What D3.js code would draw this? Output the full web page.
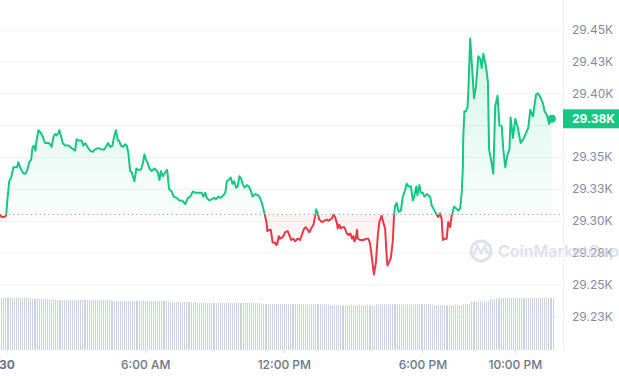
<!DOCTYPE html>
<html>
<head>
<meta charset="utf-8">
<script src="https://cdn.jsdelivr.net/npm/d3@7"></script>
<style>
  body { margin: 0; background: #fff; }
  svg { display: block; font-family: Inter, "Noto Sans", sans-serif; }
</style>
</head>
<body>
<svg id="chart" width="619" height="376"></svg>
<script>
// minutes after midnight (Apr 30) and BTC price in USD
var priceMinutes = [
  -17,-13,-6,-1,2,7,12,18,22,27,31,35,40,45,49,54,59,64,67,71,75,78,83,89,94,100,109,113,117,122,
  126,130,135,137,142,146,152,161,169,178,182,186,195,199,204,210,217,224,230,238,247,254,260,264,269,275,280,284,289,292,
  297,303,308,312,316,321,325,332,337,342,349,354,358,362,367,371,377,384,388,393,397,401,406,412,417,422,429,434,442,448,
  455,459,464,471,477,484,490,498,507,511,516,520,527,533,539,544,550,556,563,568,572,577,582,587,591,596,600,605,609,613,
  618,624,629,634,639,646,654,658,663,669,672,676,677,683,686,691,697,700,703,707,710,716,721,723,730,734,739,745,749,756,
  762,768,773,777,782,786,791,797,801,804,808,812,819,825,832,836,840,845,849,853,858,860,864,868,872,877,884,888,893,897,
  901,903,907,910,912,918,927,935,940,944,950,954,959,964,968,974,980,983,987,989,994,998,1003,1006,1009,1013,1018,1024,1029,1035,
  1039,1044,1050,1055,1058,1064,1067,1072,1076,1081,1085,1091,1095,1100,1104,1108,1113,1117,1121,1126,1130,1133,1139,1143,1147,1152,1156,1162,1167,1173,
  1178,1182,1185,1186,1189,1193,1197,1199,1202,1204,1214,1219,1225,1230,1234,1238,1245,1250,1253,1258,1264,1269,1275,1280,1286,1290,1295,1301,1306,1309,
  1315,1321,1327,1335,1342,1349,1355,1360,1367,1375,1380,1386,1393,1397,1403,1409,1413,1416
];
var priceValues = [
  29305,29303,29303,29304,29316,29331,29334,29342,29342,29342,29346,29342,29339,29337,29337,29340,29346,29348,29357,29359,29355,29363,29371,29369,29366,29361,29361,29360,29358,29366,
  29368,29367,29369,29371,29366,29361,29359,29359,29357,29355,29364,29363,29363,29359,29361,29358,29355,29354,29356,29357,29356,29356,29359,29361,29358,29359,29367,29371,29363,29363,
  29359,29358,29360,29359,29354,29339,29338,29331,29341,29340,29340,29345,29352,29348,29345,29341,29339,29341,29340,29338,29332,29339,29335,29338,29340,29325,29323,29319,29318,29316,
  29316,29315,29313,29318,29319,29323,29322,29322,29322,29319,29322,29318,29316,29317,29318,29317,29319,29318,29320,29322,29331,29332,29334,29329,29331,29326,29327,29335,29333,29329,
  29326,29328,29327,29324,29319,29321,29320,29318,29314,29307,29303,29297,29292,29293,29293,29283,29283,29281,29282,29288,29286,29287,29289,29291,29292,29289,29285,29286,29284,29286,
  29285,29290,29294,29295,29293,29291,29294,29297,29303,29309,29306,29301,29299,29300,29301,29300,29301,29302,29305,29303,29298,29294,29297,29294,29295,29295,29290,29289,29290,29286,
  29288,29284,29286,29293,29286,29285,29285,29286,29286,29282,29268,29258,29267,29288,29299,29304,29297,29294,29273,29265,29268,29271,29284,29303,29312,29314,29307,29308,29319,29324,
  29329,29327,29327,29316,29318,29327,29320,29328,29322,29322,29319,29321,29320,29319,29312,29310,29307,29305,29303,29306,29301,29285,29286,29286,29299,29295,29304,29311,29310,29308,
  29310,29322,29342,29366,29386,29386,29389,29400,29426,29443,29396,29405,29429,29427,29420,29431,29421,29409,29356,29348,29337,29390,29398,29375,29374,29356,29342,29352,29356,29381,
  29365,29380,29374,29361,29364,29369,29373,29387,29382,29399,29400,29397,29392,29386,29383,29376,29379,29380
];
var openPrice = 29305;
var lastPrice = 29380;
var lastPriceLabel = "29.38K";

// 24h volume (billions USD), one bar every 5 minutes starting 23:45
var volumeStart = -15;
var volumeValues = [
  13.1,13.1,13.1,13.1,13.1,13.1,13.1,13.1,13.1,13.1,13.1,13.1,13.1,13.1,13.1,13.1,12.75,12.75,12.75,12.75,12.75,12.75,12.75,12.75,
  12.75,12.75,12.75,12.75,12.5,12.5,12.5,12.5,12.5,12.5,12.5,12.5,12.5,12.5,12.5,12.5,12.5,12.5,12.5,12.5,12.5,12.5,12.5,12.5,
  12.5,12.5,12.5,12.5,12.5,12.5,12.5,12.5,12.5,12.33,12.33,12.33,12.33,12.33,12.33,12.33,12.33,12.33,12.33,12.33,12.33,12.33,12.33,12.33,
  12.33,12.33,12.33,12.33,12.33,12.33,12.33,12.33,12.33,12.33,12.33,12.33,12.33,12.33,12.33,12.33,12.0,12.0,12.0,12.0,12.0,12.0,12.0,12.0,
  12.0,12.0,12.0,12.0,12.0,12.0,11.75,11.75,11.75,11.75,11.75,11.75,11.75,11.75,11.75,11.75,11.75,11.75,11.75,11.75,11.75,11.75,11.75,11.75,
  11.75,11.75,11.75,11.75,11.75,11.75,11.75,11.75,11.75,11.75,11.75,11.75,11.75,11.75,11.75,11.5,11.5,11.5,11.5,11.5,11.5,11.5,11.5,11.5,
  11.5,11.5,11.5,11.5,11.5,11.5,11.5,11.5,11.5,11.5,11.5,11.5,11.42,11.42,11.42,11.42,11.42,11.42,11.42,11.42,11.42,11.42,11.42,11.42,
  11.42,11.42,11.42,11.17,11.17,11.17,11.17,11.17,11.17,11.17,11.17,11.17,11.17,11.17,11.17,11.17,11.17,11.17,11.17,11.17,11.17,11.17,11.17,11.17,
  11.17,11.17,11.17,11.42,11.42,11.42,11.42,11.42,11.42,11.42,11.42,11.42,11.42,11.42,11.42,11.42,11.42,11.42,11.42,11.42,11.42,11.42,11.42,11.42,
  11.5,11.5,11.5,11.5,11.5,11.5,11.5,11.5,11.17,11.17,11.17,11.17,11.17,11.17,11.17,11.17,11.17,11.17,11.17,11.17,11.17,11.17,11.17,11.17,
  11.5,11.5,11.5,11.5,12.1,12.1,12.1,12.1,12.1,12.1,12.1,12.1,12.1,12.1,12.7,12.7,12.7,13.0,13.0,13.0,13.0,13.0,13.0,13.0,
  13.0,13.0,13.0,13.0,13.0,13.0,13.0,13.0,13.0,13.0,13.0,13.0,13.0,13.0,13.0,13.0,13.0,13.0,13.0,13.0,13.0,13.0,13.0,13.0
];

var yTicks = [29225, 29250, 29275, 29300, 29325, 29350, 29375, 29400, 29425, 29450];
var yTickLabels = ["29.23K", "29.25K", "29.28K", "29.30K", "29.33K", "29.35K", "29.38K", "29.40K", "29.43K", "29.45K"];
var xTickHours = [0, 6, 12, 18, 22];
var xTickLabels = ["30", "6:00 AM", "12:00 PM", "6:00 PM", "10:00 PM"];

var green = "#16c784", red = "#ea3943";
var plotRight = 563, plotBottom = 350;
var day = new Date(2023, 3, 30);
function at(min) { return new Date(day.getTime() + min * 60000) }

var svg = d3.select("#chart");
var defs = svg.append("defs");

var x = d3.scaleTime()
    .domain([at(-17), at(1445)])
    .range([0, plotRight]);
var y = d3.scaleLinear()
    .domain([29225, 29450])
    .range([316.5, 29.5]);
var yVol = d3.scaleLinear()
    .domain([0, 14])
    .range([plotBottom, plotBottom - 56]);

var prices = priceMinutes.map((m, i) => ({ t: at(m), v: priceValues[i] }));
var baseY = y(openPrice);
var tagY = y(lastPrice);

// gradients
var gUp = defs.append("linearGradient").attr("id", "gUp")
    .attr("gradientUnits", "userSpaceOnUse").attr("x1", 0).attr("x2", 0).attr("y1", y(29450)).attr("y2", baseY);
gUp.append("stop").attr("offset", 0).attr("stop-color", green).attr("stop-opacity", 0.2);
gUp.append("stop").attr("offset", 1).attr("stop-color", green).attr("stop-opacity", 0.02);
var gDown = defs.append("linearGradient").attr("id", "gDown")
    .attr("gradientUnits", "userSpaceOnUse").attr("x1", 0).attr("x2", 0).attr("y1", baseY).attr("y2", y(29250));
gDown.append("stop").attr("offset", 0).attr("stop-color", red).attr("stop-opacity", 0.07);
gDown.append("stop").attr("offset", 1).attr("stop-color", red).attr("stop-opacity", 0.0);

defs.append("clipPath").attr("id", "clipUp")
  .append("rect").attr("x", 0).attr("y", 0).attr("width", plotRight).attr("height", baseY);
defs.append("clipPath").attr("id", "clipDown")
  .append("rect").attr("x", 0).attr("y", baseY).attr("width", plotRight).attr("height", plotBottom - baseY);

// grid
svg.append("g")
    .attr("transform", "translate(" + plotRight + ",0)")
    .call(d3.axisLeft(y).tickValues(yTicks).tickSize(plotRight).tickFormat(""))
    .call(g => g.select(".domain").remove())
    .call(g => g.selectAll(".tick line").attr("stroke", "#eff2f5"));

svg.append("line")
    .attr("x1", plotRight + 0.5).attr("x2", plotRight + 0.5)
    .attr("y1", 0).attr("y2", plotBottom)
    .attr("stroke", "#eff2f5");

// volume
svg.append("g").selectAll("rect")
  .data(volumeValues)
  .join("rect")
    .attr("x", (d, i) => Math.round(x(at(volumeStart + 5 * i))))
    .attr("width", 1)
    .attr("y", d => yVol(d))
    .attr("height", d => plotBottom - yVol(d))
    .attr("fill", "#cbd2e0");

// areas
var area = d3.area().x(d => x(d.t)).y0(baseY).y1(d => y(d.v));
var line = d3.line().x(d => x(d.t)).y(d => y(d.v));

svg.append("path").datum(prices).attr("clip-path", "url(#clipUp)")
    .attr("d", area).attr("fill", "url(#gUp)");
svg.append("path").datum(prices).attr("clip-path", "url(#clipDown)")
    .attr("d", area).attr("fill", "url(#gDown)");

// open price reference
svg.append("line")
    .attr("x1", 0).attr("x2", plotRight)
    .attr("y1", baseY).attr("y2", baseY)
    .attr("stroke", "#9aa0ad").attr("stroke-dasharray", "1.2,3.2");

svg.append("path").datum(prices).attr("clip-path", "url(#clipUp)")
    .attr("d", line).attr("fill", "none").attr("stroke", green)
    .attr("stroke-width", 2).attr("stroke-linejoin", "round");
svg.append("path").datum(prices).attr("clip-path", "url(#clipDown)")
    .attr("d", line).attr("fill", "none").attr("stroke", red)
    .attr("stroke-width", 2).attr("stroke-linejoin", "round");

var last = prices[prices.length - 1];
svg.append("circle").attr("cx", x(last.t)).attr("cy", y(last.v)).attr("r", 4).attr("fill", green);

// y axis (the label under the price tag is hidden, as on the site)
svg.append("g")
    .attr("transform", "translate(" + plotRight + ",0)")
    .call(d3.axisRight(y).tickValues(yTicks.filter(d => Math.abs(y(d) - tagY) > 12)).tickSize(0).tickPadding(9)
      .tickFormat(d => yTickLabels[yTicks.indexOf(d)]))
    .call(g => g.select(".domain").remove())
    .call(g => g.selectAll("text").attr("fill", "#858ca2").attr("font-size", 12).attr("font-family", "Inter, sans-serif"));

// watermark, drawn over the axis labels
var wm = svg.append("g").attr("opacity", 0.7).attr("fill", "none").attr("stroke", "#cfd6e4");
wm.append("circle").attr("cx", 481).attr("cy", 251).attr("r", 10).attr("stroke-width", 2.8);
wm.append("path").attr("d", "M474,255 L477,246 L481,253 L485,246 L487,253 L490,252").attr("stroke-width", 2.4);
svg.append("text")
    .attr("x", 498).attr("y", 257)
    .attr("font-size", 16).attr("font-weight", 600)
    .attr("fill", "#cfd6e4").attr("opacity", 0.7)
    .text("CoinMarketCap");

// current price tag
var tag = svg.append("g").attr("transform", "translate(" + plotRight + "," + tagY + ")");
tag.append("rect").attr("x", 0).attr("y", -9.5).attr("width", 619 - plotRight).attr("height", 19).attr("fill", green);
tag.append("text").attr("x", 9).attr("y", 0).attr("dy", "0.35em")
    .attr("fill", "#fff").attr("font-size", 12).attr("font-weight", 700)
    .text(lastPriceLabel);

// x axis
svg.append("g")
    .attr("transform", "translate(0," + plotBottom + ")")
    .call(d3.axisBottom(x).tickValues(xTickHours.map(h => at(h * 60))).tickSize(3).tickPadding(7)
      .tickFormat((d, i) => xTickLabels[i]))
    .call(g => g.select(".domain").remove())
    .call(g => g.selectAll(".tick line").attr("stroke", "#cfd6e4"))
    .call(g => g.selectAll("text").attr("fill", "#6b7489").attr("font-size", 12)
      .attr("font-weight", (d, i) => i === 0 ? 700 : 500).attr("font-family", "Inter, sans-serif"));
</script>
</body>
</html>
